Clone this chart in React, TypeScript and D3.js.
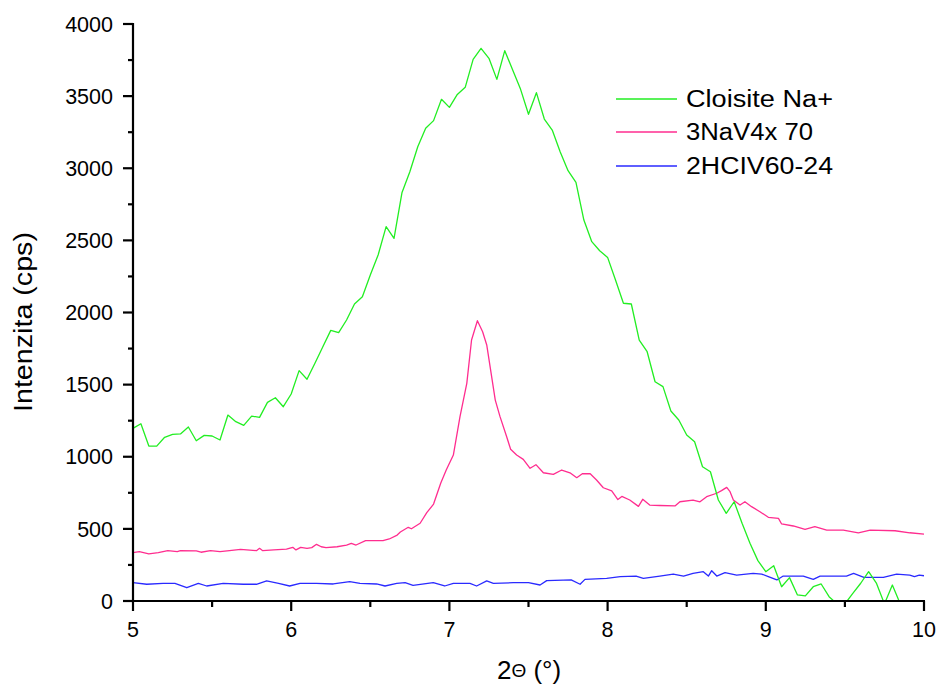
import React from "react";
import * as d3 from "d3";

const W = 939;
const H = 686;

const cloisiteX = [5.0,5.05,5.1,5.15,5.2,5.25,5.3,5.35,5.4,5.45,5.5,5.55,5.6,5.65,5.7,5.75,5.8,5.85,5.9,5.95,6.0,6.05,6.1,6.15,6.2,6.25,6.3,6.35,6.4,6.45,6.5,6.55,6.6,6.65,6.7,6.75,6.8,6.85,6.9,6.95,7.0,7.05,7.1,7.15,7.2,7.25,7.3,7.35,7.4,7.45,7.5,7.55,7.6,7.65,7.7,7.75,7.8,7.85,7.9,7.95,8.0,8.05,8.1,8.15,8.2,8.25,8.3,8.35,8.4,8.45,8.5,8.55,8.6,8.65,8.7,8.75,8.8,8.85,8.9,8.95,9.0,9.05,9.1,9.15,9.2,9.25,9.3,9.35,9.4,9.45,9.5,9.55,9.6,9.65,9.7,9.75,9.8,9.85];
const cloisiteY = [1197,1229,1074,1074,1135,1155,1158,1206,1111,1148,1144,1116,1289,1243,1218,1282,1273,1377,1409,1347,1435,1597,1537,1648,1763,1876,1860,1948,2059,2109,2260,2400,2595,2514,2830,2976,3149,3277,3330,3478,3422,3512,3561,3755,3831,3762,3616,3815,3681,3547,3374,3524,3341,3265,3115,2983,2902,2641,2491,2428,2382,2225,2064,2059,1809,1728,1520,1486,1317,1255,1151,1104,931,896,700,608,688,539,400,280,203,245,99,162,42,35,99,118,30,-20,-20,53,123,203,122,-20,111,-20];

const naX = [5.0,5.04,5.1,5.16,5.22,5.28,5.3,5.4,5.43,5.49,5.55,5.61,5.68,5.78,5.8,5.82,5.89,5.97,6.01,6.03,6.06,6.1,6.13,6.16,6.19,6.22,6.29,6.35,6.38,6.41,6.47,6.58,6.62,6.67,6.69,6.74,6.76,6.815,6.857,6.9,6.945,6.98,7.025,7.067,7.11,7.14,7.177,7.21,7.236,7.29,7.32,7.362,7.387,7.425,7.467,7.51,7.547,7.594,7.657,7.71,7.762,7.805,7.84,7.89,7.93,7.973,8.026,8.065,8.09,8.14,8.195,8.222,8.266,8.33,8.426,8.457,8.54,8.584,8.626,8.69,8.72,8.753,8.774,8.795,8.837,8.868,8.91,8.963,9.016,9.08,9.1,9.174,9.248,9.31,9.385,9.49,9.585,9.66,9.817,9.91,10.0];
const naY = [335,342,326,335,349,342,349,347,338,349,342,349,358,349,365,349,354,360,372,354,372,365,370,393,376,370,376,388,400,388,418,418,430,457,478,511,501,539,612,672,816,908,1012,1278,1509,1809,1943,1867,1775,1393,1278,1139,1052,1012,982,920,945,889,878,908,889,855,882,882,839,785,763,703,725,700,656,705,665,662,659,688,700,688,723,747,765,788,758,700,665,688,654,619,580,573,534,520,497,515,492,492,473,492,487,473,464];

const hciX = [5.0,5.087,5.19,5.265,5.34,5.413,5.466,5.57,5.697,5.78,5.845,5.92,5.99,6.056,6.16,6.266,6.37,6.435,6.54,6.593,6.667,6.72,6.77,6.898,6.97,7.025,7.13,7.172,7.236,7.278,7.404,7.5,7.573,7.615,7.77,7.826,7.857,7.994,8.08,8.18,8.226,8.33,8.415,8.48,8.54,8.605,8.637,8.658,8.69,8.742,8.816,8.92,8.974,9.016,9.07,9.11,9.237,9.3,9.343,9.51,9.555,9.62,9.68,9.743,9.827,9.91,9.94,9.97,10.0];
const hciY = [127,116,122,122,92,122,104,122,116,116,139,122,104,122,122,118,134,122,118,104,122,127,109,127,104,122,122,104,139,122,127,127,111,141,146,116,150,157,169,173,157,173,187,173,192,203,173,210,173,196,180,192,187,169,146,173,173,150,173,173,192,164,164,164,187,180,169,180,175];

const seriesNames = ["Cloisite Na+", "3NaV4x 70", "2HCIV60-24"];
const seriesColors = ["#22ee22", "#ff2d8f", "#2a2aff"];
const xTicks = [5, 6, 7, 8, 9, 10];
const yTicks = [0, 500, 1000, 1500, 2000, 2500, 3000, 3500, 4000];

export default function App() {
  const left = 133, right = 924, top = 24, bottom = 601;
  const x = d3.scaleLinear().domain([5, 10]).range([left, right]);
  const y = d3.scaleLinear().domain([0, 4000]).range([bottom, top]);
  const line = d3.line<[number, number]>().x(d => x(d[0])).y(d => y(d[1]));
  const series = [
    cloisiteX.map((v, i) => [v, cloisiteY[i]] as [number, number]),
    naX.map((v, i) => [v, naY[i]] as [number, number]),
    hciX.map((v, i) => [v, hciY[i]] as [number, number]),
  ];
  const xMinor = d3.range(5, 10.001, 0.5);
  const yMinor = d3.range(0, 4000.001, 250);
  const font = "Arial, 'Liberation Sans', sans-serif";
  const legendLen = [147, 127, 147];
  return (
    <svg width={W} height={H} style={{ position: "absolute", left: 0, top: 0, background: "#fff" }} fontFamily={font}>
      <defs>
        <clipPath id="plot">
          <rect x={left} y={top - 5} width={right - left + 2} height={bottom - top + 5} />
        </clipPath>
      </defs>
      <g clipPath="url(#plot)">
        {[2, 1, 0].map(i => (
          <path key={i} d={line(series[i]) || ""} fill="none" stroke={seriesColors[i]} strokeWidth={1.3} strokeLinejoin="round" />
        ))}
      </g>
      <line x1={left} x2={left} y1={top - 1} y2={bottom + 1} stroke="#000" strokeWidth={2.2} />
      <line x1={left - 1} x2={right + 1} y1={bottom} y2={bottom} stroke="#000" strokeWidth={2.2} />
      {yMinor.map(v => (
        <line key={"ym" + v} x1={left} x2={left - (v % 500 === 0 ? 10 : 5)} y1={y(v)} y2={y(v)} stroke="#000" strokeWidth={2.2} />
      ))}
      {xMinor.map(v => (
        <line key={"xm" + v} x1={x(v)} x2={x(v)} y1={bottom} y2={bottom + (Math.abs(v - Math.round(v)) < 1e-6 ? 10 : 6)} stroke="#000" strokeWidth={2.2} />
      ))}
      {yTicks.map(v => (
        <text key={"yl" + v} x={113} y={y(v)} dy="0.36em" textAnchor="end" fontSize={21.5} fill="#000">{v}</text>
      ))}
      {xTicks.map(v => (
        <text key={"xl" + v} x={x(v)} y={637} textAnchor="middle" fontSize={21.5} fill="#000">{v}</text>
      ))}
      <text x={529} y={679} textAnchor="middle" fontSize={26} fill="#000">2<tspan fontSize={19} dy={-2}>Θ</tspan><tspan dy={2}> (°)</tspan></text>
      <text transform="translate(32,322) rotate(-90)" textAnchor="middle" fontSize={25} fill="#000" textLength={180} lengthAdjust="spacingAndGlyphs">Intenzita (cps)</text>
      {seriesNames.map((n, i) => {
        const ly = [99, 132, 166][i];
        return (
          <g key={n}>
            <line x1={616} x2={677} y1={ly} y2={ly} stroke={seriesColors[i]} strokeWidth={1.5} />
            <text x={686} y={ly + 8} fontSize={23.5} fill="#000" textLength={legendLen[i]} lengthAdjust="spacingAndGlyphs">{n}</text>
          </g>
        );
      })}
    </svg>
  );
}
